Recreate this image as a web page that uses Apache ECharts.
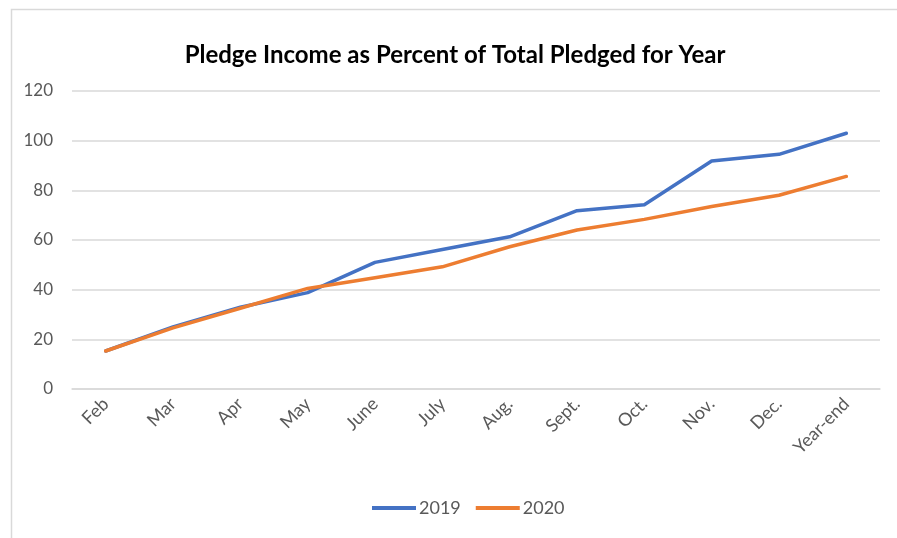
<!DOCTYPE html>
<html>
<head>
<meta charset="utf-8">
<style>
  html, body { margin: 0; padding: 0; background: #ffffff; }
  #chart { width: 897px; height: 538px; }
</style>
<script src="https://cdn.jsdelivr.net/npm/echarts@6/dist/echarts.min.js"></script>
</head>
<body>
<div id="chart"></div>
<script>
// Months of the pledge year
const months = ['Feb', 'Mar', 'Apr', 'May', 'June', 'July', 'Aug.', 'Sept.', 'Oct.', 'Nov.', 'Dec.', 'Year-end'];

// Pledge income received, as a percent of the year's total pledged
const income2019 = [15.3, 25.0, 32.9, 38.8, 51.0, 56.2, 61.3, 71.8, 74.2, 91.8, 94.5, 103.0];
const income2020 = [15.3, 24.6, 32.5, 40.5, 44.8, 49.2, 57.3, 64.0, 68.3, 73.5, 78.0, 85.6];

const yTicks = [0, 20, 40, 60, 80, 100, 120];

const chart = echarts.init(document.getElementById('chart'));
const textGrey = '#595959';
const gridGrey = '#d9d9d9';

chart.setOption({
  animation: false,
  backgroundColor: '#ffffff',
  graphic: [{
    type: 'rect',
    left: 9, top: 7,
    shape: { width: 900, height: 540 },
    style: { fill: 'none', stroke: gridGrey, lineWidth: 1.5 },
    silent: true
  }],
  title: {
    text: 'Pledge Income as Percent of Total Pledged for Year',
    left: 450, top: 38, textAlign: 'center',
    textStyle: { fontFamily: 'Lato', fontWeight: 'bold', fontSize: 24, color: '#000000' }
  },
  legend: {
    left: 367, top: 494,
    icon: 'rect', itemWidth: 44, itemHeight: 4, itemGap: 15,
    textStyle: { fontFamily: 'Lato', fontSize: 18, color: textGrey, padding: [0, 0, 0, -2] },
    data: ['2019', '2020']
  },
  grid: { left: 72, right: 17, top: 91, bottom: 149 },
  xAxis: {
    type: 'category',
    data: months,
    boundaryGap: true,
    axisLine: { lineStyle: { color: gridGrey, width: 1.5 } },
    axisTick: { show: false },
    axisLabel: { rotate: 45, margin: 12, fontFamily: 'Lato', fontSize: 18, color: textGrey, interval: 0 }
  },
  yAxis: {
    type: 'value',
    min: yTicks[0], max: yTicks[yTicks.length - 1], interval: yTicks[1] - yTicks[0],
    axisLine: { show: false },
    axisTick: { show: false },
    axisLabel: { margin: 19, fontFamily: 'Lato', fontSize: 17, color: textGrey },
    splitLine: { lineStyle: { color: gridGrey, width: 1.5 } }
  },
  series: [
    {
      name: '2019', type: 'line', data: income2019,
      symbol: 'none', color: '#4472C4',
      lineStyle: { width: 3.5, cap: 'round', join: 'round' }
    },
    {
      name: '2020', type: 'line', data: income2020,
      symbol: 'none', color: '#ED7D31',
      lineStyle: { width: 3.5, cap: 'round', join: 'round' }
    }
  ]
});
</script>
</body>
</html>
